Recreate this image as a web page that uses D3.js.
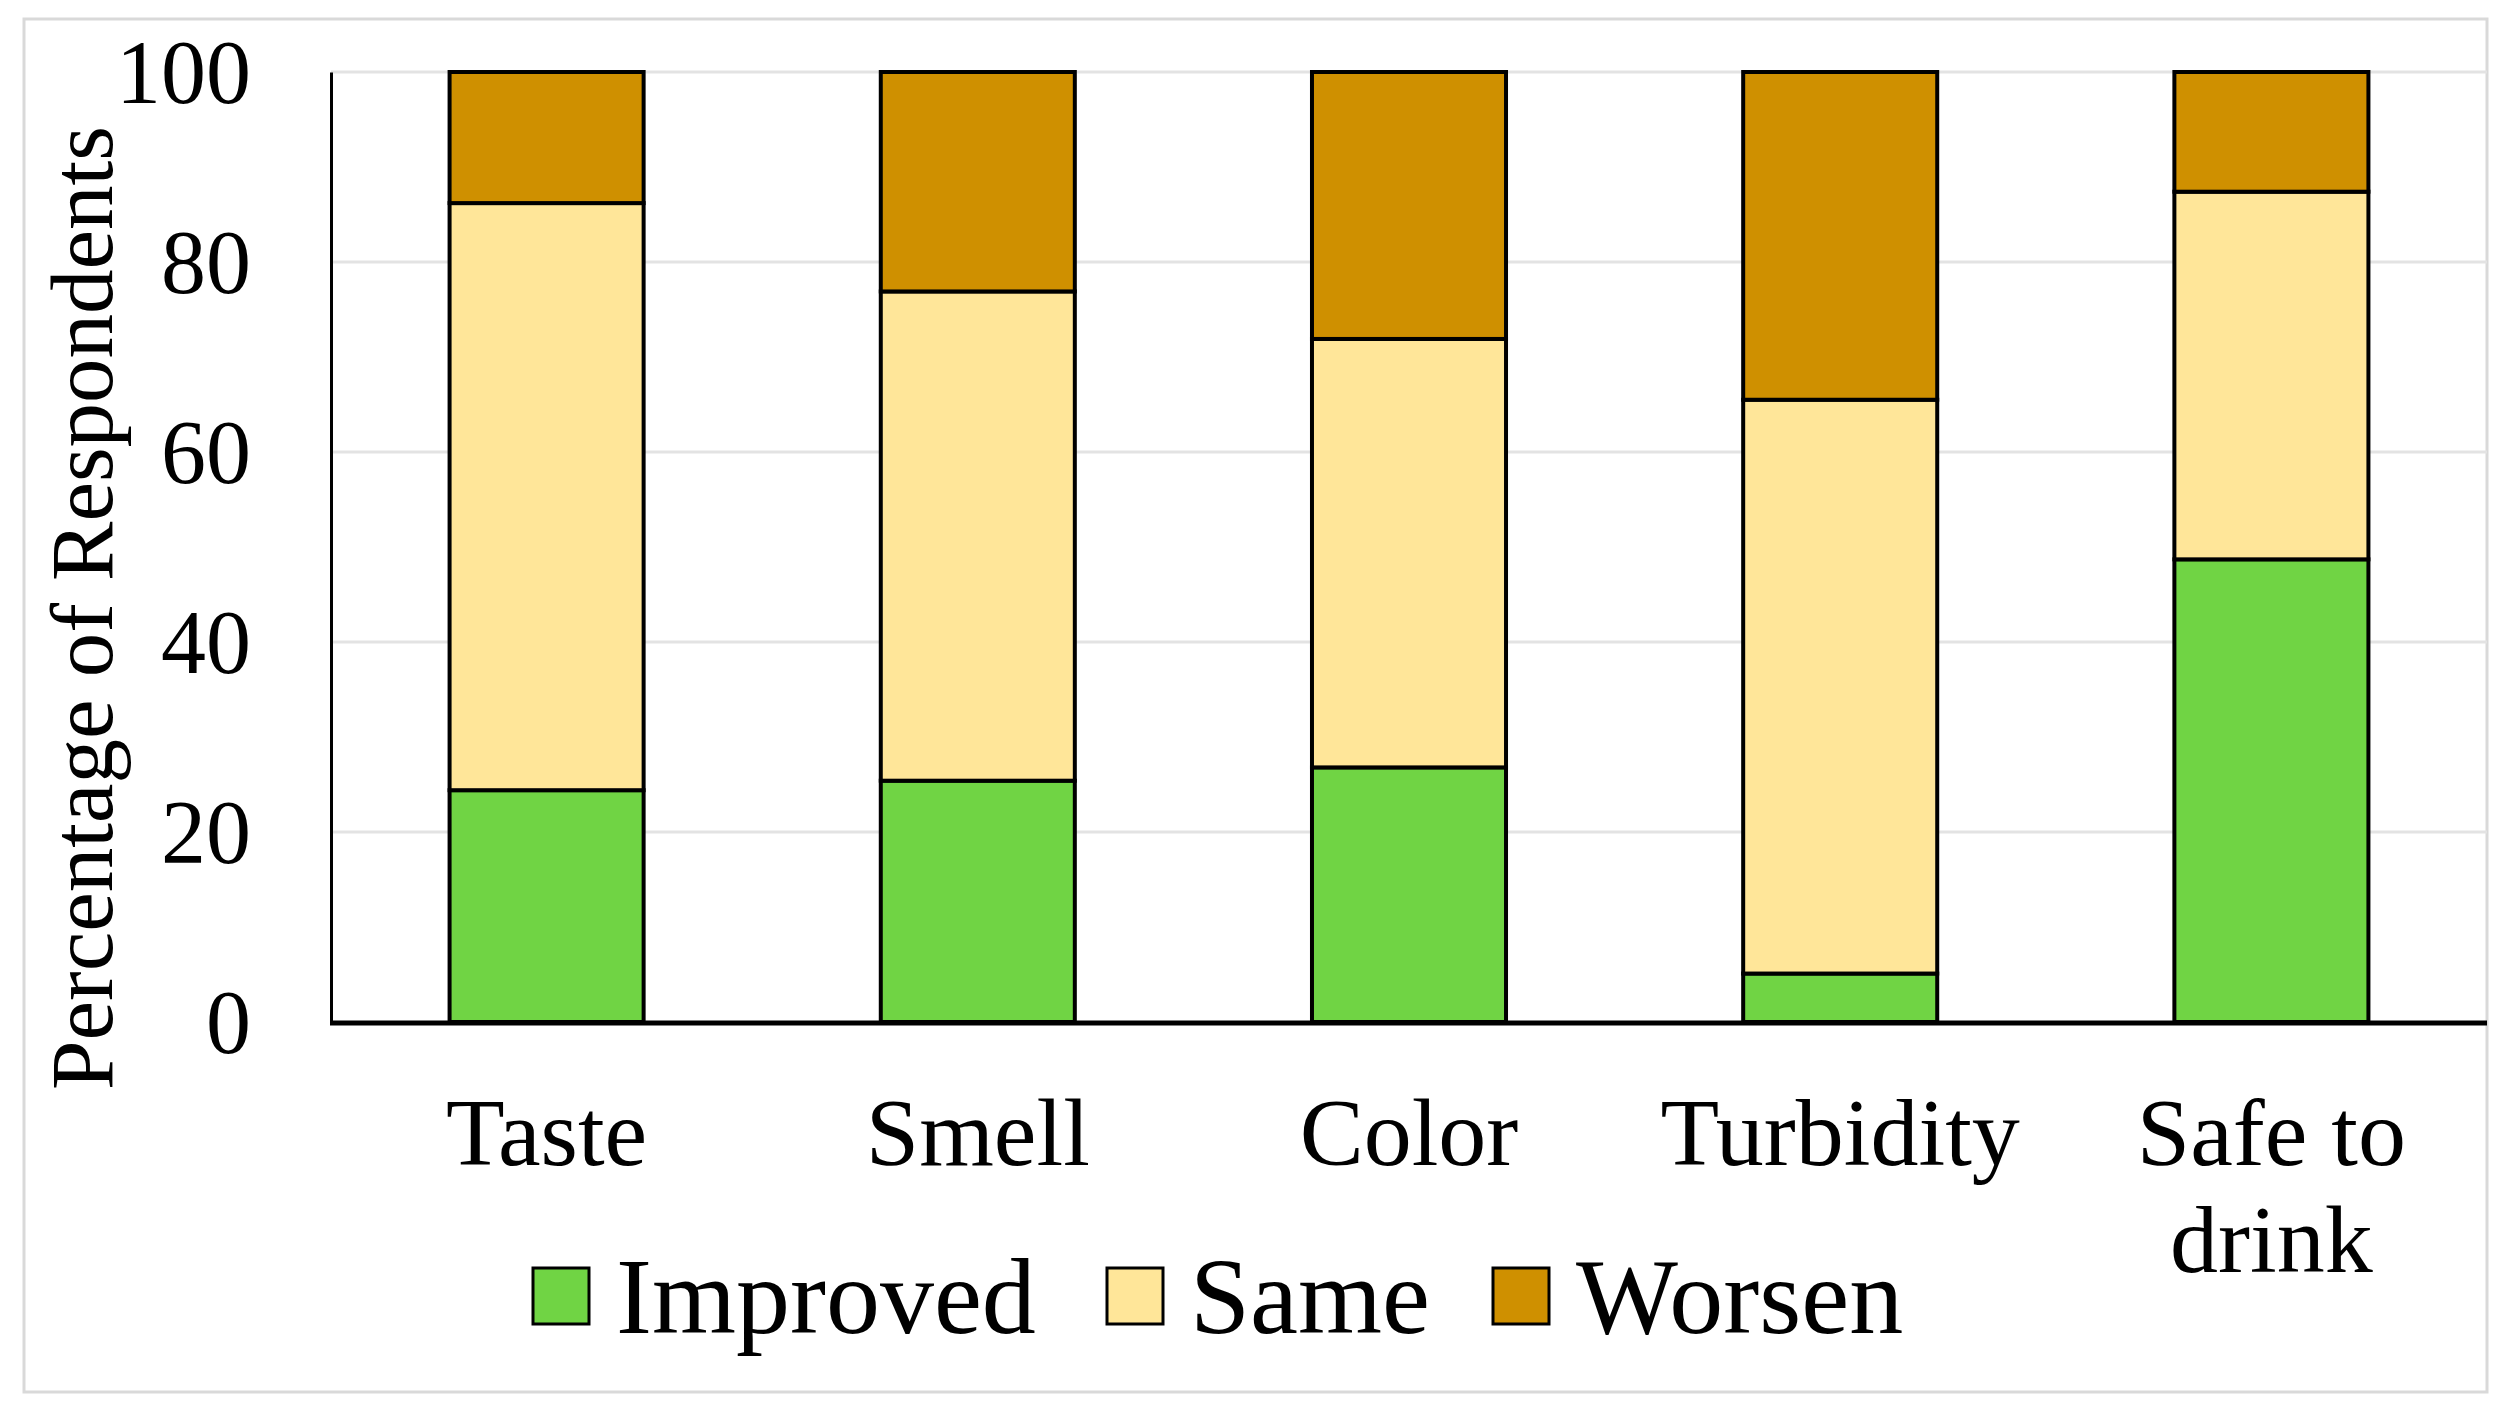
<!DOCTYPE html>
<html>
<head>
<meta charset="utf-8">
<script src="https://cdn.jsdelivr.net/npm/d3@7"></script>
<style>
  body { margin: 0; background: #fff; }
  text { font-family: "Liberation Serif", "Times New Roman", serif; fill: #000; }
</style>
</head>
<body>
<div class="visual"></div>
<script>
'use strict';
const categories = ["Taste", "Smell", "Color", "Turbidity", "Safe to drink"];
const series = ["Improved", "Same", "Worsen"];
const improved = [24.4, 25.4, 26.8, 5.1, 48.7];
const same = [61.8, 51.5, 45.1, 60.4, 38.7];
const worsen = [13.8, 23.1, 28.1, 34.5, 12.6];
const colors = ["#70d444", "#ffe699", "#cf9000"];
const yTicks = [0, 20, 40, 60, 80, 100];

let W = 2508, H = 1416;
let margin = {left: 331, right: 2487, top: 72, bottom: 1022};

let svg = d3.select(".visual").append("svg").attr("width", W).attr("height", H);

// outer frame
svg.append("rect").attr("x", 24).attr("y", 19).attr("width", 2463).attr("height", 1373)
   .attr("fill", "#fff").attr("stroke", "#d9d9d9").attr("stroke-width", 3);

let x = d3.scaleBand().domain(categories).range([margin.left, margin.right]).paddingInner(0.55).paddingOuter(0.275);
let y = d3.scaleLinear().domain([0, 100]).range([margin.bottom, margin.top]);

// gridlines
svg.append("g").selectAll("line").data(yTicks.filter(d => d > 0)).enter().append("line")
   .attr("x1", margin.left).attr("x2", margin.right)
   .attr("y1", d => y(d)).attr("y2", d => y(d))
   .attr("stroke", "#e3e3e3").attr("stroke-width", 3);

// stack
let rows = categories.map((c, i) => ({cat: c, Improved: improved[i], Same: same[i], Worsen: worsen[i]}));
let stacked = d3.stack().keys(series)(rows);

let layers = svg.append("g").selectAll("g").data(stacked).enter().append("g")
   .attr("fill", (d, i) => colors[i]);
layers.selectAll("rect").data(d => d).enter().append("rect")
   .attr("x", d => x(d.data.cat))
   .attr("width", x.bandwidth())
   .attr("y", d => y(d[1]))
   .attr("height", d => y(d[0]) - y(d[1]))
   .attr("stroke", "#000").attr("stroke-width", 4);

// y axis
let yAxis = d3.axisLeft(y).tickValues(yTicks).tickSize(0).tickPadding(80);
let gy = svg.append("g").attr("transform", "translate(" + margin.left + ",0)").call(yAxis);
gy.select(".domain").attr("stroke", "#000").attr("stroke-width", 3);
gy.selectAll("text").style("font-size", "90px").attr("dy", "0.34em");

// baseline
svg.append("line").attr("x1", margin.left - 1).attr("x2", margin.right)
   .attr("y1", y(0) + 1).attr("y2", y(0) + 1)
   .attr("stroke", "#000").attr("stroke-width", 5);

// category labels (wrap "Safe to drink")
let catLabels = svg.append("g").selectAll("text").data(categories).enter().append("text")
   .attr("text-anchor", "middle")
   .attr("x", d => x(d) + x.bandwidth() / 2)
   .attr("y", 1165)
   .style("font-size", "96px");
catLabels.each(function (d) {
    let t = d3.select(this);
    if (d === "Safe to drink") {
        t.append("tspan").attr("x", x(d) + x.bandwidth() / 2).text("Safe to");
        t.append("tspan").attr("x", x(d) + x.bandwidth() / 2).attr("dy", 107).text("drink");
    } else {
        t.text(d);
    }
});

// y title
svg.append("text")
   .attr("transform", "translate(112,608) rotate(-90)")
   .attr("text-anchor", "middle")
   .style("font-size", "89px")
   .text("Percentage of Respondents");

// legend
let legendX = [533, 1107, 1493];
let legend = svg.append("g").selectAll("g").data(series).enter().append("g")
   .attr("transform", (d, i) => "translate(" + legendX[i] + ",1268)");
legend.append("rect").attr("width", 56).attr("height", 56)
   .attr("fill", (d, i) => colors[i]).attr("stroke", "#000").attr("stroke-width", 3);
legend.append("text").attr("x", 83).attr("y", 65)
   .style("font-size", "108px").text(d => d);
</script>
</body>
</html>
